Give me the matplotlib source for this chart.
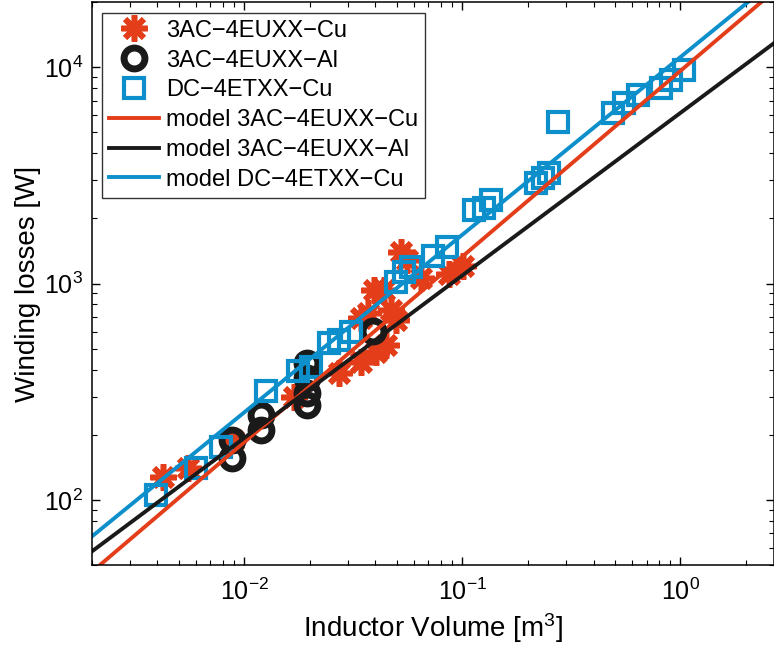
import numpy as np
import matplotlib
matplotlib.use('Agg')
import matplotlib.pyplot as plt

plt.rcParams['font.family'] = ['Liberation Sans', 'DejaVu Sans']
plt.rcParams['mathtext.fontset'] = 'custom'
plt.rcParams['mathtext.rm'] = 'Liberation Sans'
plt.rcParams['mathtext.it'] = 'Liberation Sans'
plt.rcParams['mathtext.default'] = 'regular'

RED = '#E33D1A'
BLACK = '#1a1a1a'
BLUE = '#0C8FCB'

# measured inductors: volume [m^3] and winding losses [W]
ac_cu_vol = [0.00425, 0.00553, 0.0089, 0.01695, 0.0273, 0.0344, 0.0344, 0.0371, 0.0394,
             0.0404, 0.0438, 0.0448, 0.0472, 0.0498, 0.0525, 0.0557, 0.0649, 0.0873, 0.101]
ac_cu_loss = [128, 141, 189, 299, 386, 693, 434, 731, 934,
              483, 934, 520, 755, 678, 1397, 1285, 1059, 1110, 1205]

ac_al_vol = [0.0088, 0.0088, 0.01197, 0.01197, 0.0195, 0.0195, 0.0195, 0.0195, 0.0391]
ac_al_loss = [189, 156, 247, 211, 430, 366, 312, 275, 604]

dc_cu_vol = [0.00394, 0.00602, 0.00784, 0.01261, 0.0177, 0.0203, 0.0245, 0.0273, 0.031,
             0.0498, 0.0542, 0.0583, 0.0736, 0.0853, 0.1135, 0.126, 0.136, 0.218, 0.235,
             0.2505, 0.2755, 0.493, 0.553, 0.641, 0.818, 0.910, 1.043]
dc_cu_loss = [105, 141, 176, 319, 395, 412, 531, 548, 597,
              1016, 1130, 1191, 1340, 1475, 2183, 2232, 2431, 2913, 3070,
              3236, 5570, 6140, 6830, 7430, 8000, 8710, 9690]

# fitted models P = k * V^n
k_ac_cu, n_ac_cu = 9600, 0.858
k_ac_al, n_ac_al = 6140, 0.751
k_dc_cu, n_dc_cu = 11120, 0.821

xlim = (2e-3, 2.7)
ylim = (50, 2e4)

fig = plt.figure(figsize=(7.74, 6.49), dpi=100)
ax = fig.add_axes([0.1185, 0.1294, 0.882, 0.8675])

asterisk = (8, 2, 0)
ax.plot(ac_cu_vol, ac_cu_loss, linestyle='none', marker=asterisk, markersize=19,
        markeredgewidth=4.0, color=RED, label='3AC\u22124EUXX\u2212Cu')
ax.plot(ac_al_vol, ac_al_loss, linestyle='none', marker='o', markersize=15,
        markeredgewidth=5.0, markerfacecolor='none', color=BLACK, label='3AC\u22124EUXX\u2212Al')
ax.plot(dc_cu_vol, dc_cu_loss, linestyle='none', marker='s', markersize=15,
        markeredgewidth=3.0, markerfacecolor='none', color=BLUE, label='DC\u22124ETXX\u2212Cu')

v = np.geomspace(xlim[0], xlim[1], 200)
ax.plot(v, k_ac_cu * v ** n_ac_cu, color=RED, lw=2.8, label='model 3AC\u22124EUXX\u2212Cu')
ax.plot(v, k_ac_al * v ** n_ac_al, color=BLACK, lw=2.8, label='model 3AC\u22124EUXX\u2212Al')
ax.plot(v, k_dc_cu * v ** n_dc_cu, color=BLUE, lw=2.8, label='model DC\u22124ETXX\u2212Cu')

ax.set_xscale('log')
ax.set_yscale('log')
ax.set_xlim(*xlim)
ax.set_ylim(*ylim)

ax.tick_params(which='both', direction='in', top=True, right=True, labelsize=18)
ax.tick_params(which='major', length=6, width=1)
ax.tick_params(which='minor', length=3.5, width=0.8)
ax.tick_params(axis='x', pad=10)
ax.tick_params(axis='y', pad=6)
for s in ax.spines.values():
    s.set_linewidth(1.1)

ax.set_xlabel('Inductor Volume [m$^3$]', fontsize=20, labelpad=4)
ax.set_ylabel('Winding losses [W]', fontsize=20, labelpad=2)

leg = ax.legend(loc='upper left', fontsize=17, frameon=True, fancybox=False,
                edgecolor='black', handlelength=2.1, handletextpad=0.3,
                labelspacing=0.33, borderpad=0.3, borderaxespad=0.45)
leg.get_frame().set_linewidth(1.0)

fig.savefig('out.png', dpi=100)
